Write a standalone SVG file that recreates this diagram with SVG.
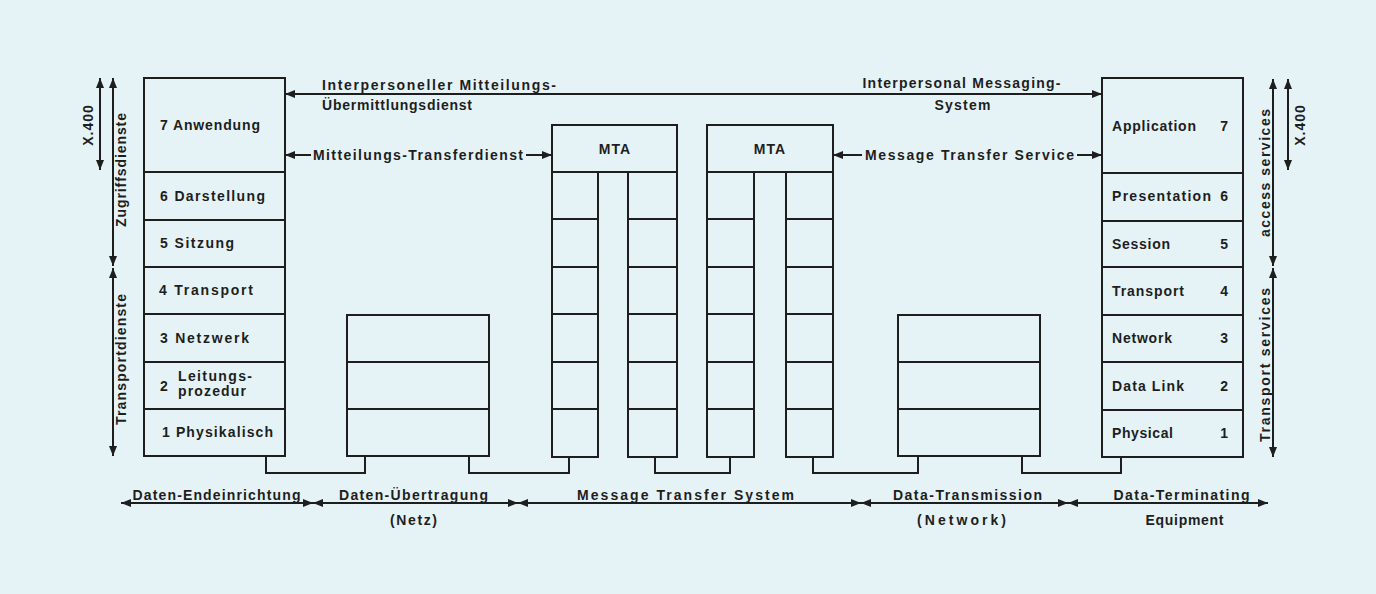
<svg xmlns="http://www.w3.org/2000/svg" width="1376" height="594" viewBox="0 0 1376 594">
<defs>
<style>
.bg{fill:#e5f3f6}
.box{fill:none;stroke:#1e1e1e;stroke-width:2}
.ln{fill:none;stroke:#1e1e1e;stroke-width:2}
.ar{fill:none;stroke:#1e1e1e;stroke-width:2;marker-start:url(#ah);marker-end:url(#ah)}
text{font-family:"Liberation Sans",Arial,sans-serif;font-weight:bold;font-size:14px;fill:#1e1e1e;letter-spacing:1px}
.m{text-anchor:middle}
.e{text-anchor:end}
</style>
<marker id="ah" viewBox="0 0 10 8" refX="10" refY="4" markerWidth="10" markerHeight="8" markerUnits="userSpaceOnUse" orient="auto-start-reverse">
<path d="M0,0 L10,4 L0,8 z" fill="#1e1e1e"/>
</marker>
</defs>
<rect class="bg" x="0" y="0" width="1376" height="594"/>

<g id="stack-left">
<rect class="box" x="144" y="78" width="141" height="378"/>
<path class="ln" d="M144,172 H285 M144,220 H285 M144,267 H285 M144,314 H285 M144,362 H285 M144,409 H285"/>
<text x="160" y="130" textLength="101">7 Anwendung</text>
<text x="160" y="201" textLength="106">6 Darstellung</text>
<text x="160" y="248" textLength="75">5 Sitzung</text>
<text x="159" y="295" textLength="95">4 Transport</text>
<text x="160" y="343" textLength="90">3 Netzwerk</text>
<text x="160" y="391">2</text>
<text x="178" y="381" textLength="75">Leitungs-</text>
<text x="178" y="396" textLength="69">prozedur</text>
<text x="162" y="437" textLength="112">1 Physikalisch</text>
</g>

<g id="stack-right">
<rect class="box" x="1102" y="78" width="141" height="379"/>
<path class="ln" d="M1102,173 H1243 M1102,221 H1243 M1102,267 H1243 M1102,315 H1243 M1102,362 H1243 M1102,410 H1243"/>
<text x="1112" y="131" textLength="85">Application</text><text class="e" x="1229" y="131">7</text>
<text x="1112" y="201" textLength="100">Presentation</text><text class="e" x="1229" y="201">6</text>
<text x="1112" y="249" textLength="59">Session</text><text class="e" x="1229" y="249">5</text>
<text x="1112" y="296" textLength="73">Transport</text><text class="e" x="1229" y="296">4</text>
<text x="1112" y="343" textLength="61">Network</text><text class="e" x="1229" y="343">3</text>
<text x="1112" y="391" textLength="73">Data Link</text><text class="e" x="1229" y="391">2</text>
<text x="1112" y="438" textLength="62">Physical</text><text class="e" x="1229" y="438">1</text>
</g>

<g id="net-left">
<rect class="box" x="347" y="315" width="142" height="141"/>
<path class="ln" d="M347,362 H489 M347,409 H489"/>
</g>

<g id="net-right">
<rect class="box" x="898" y="315" width="142" height="141"/>
<path class="ln" d="M898,362 H1040 M898,409 H1040"/>
</g>

<g id="mta-left">
<rect class="box" x="552" y="125" width="125" height="47"/>
<text class="m" x="615" y="154">MTA</text>
<rect class="box" x="552" y="172" width="46" height="285"/>
<rect class="box" x="628" y="172" width="49" height="285"/>
<path class="ln" d="M552,219 H598 M552,267 H598 M552,314 H598 M552,362 H598 M552,409 H598 M628,219 H677 M628,267 H677 M628,314 H677 M628,362 H677 M628,409 H677"/>
</g>

<g id="mta-right">
<rect class="box" x="707" y="125" width="126" height="47"/>
<text class="m" x="770" y="154">MTA</text>
<rect class="box" x="707" y="172" width="47" height="285"/>
<rect class="box" x="786" y="172" width="47" height="285"/>
<path class="ln" d="M707,219 H754 M707,267 H754 M707,314 H754 M707,362 H754 M707,409 H754 M786,219 H833 M786,267 H833 M786,314 H833 M786,362 H833 M786,409 H833"/>
</g>

<g id="connectors">
<path class="ln" d="M266,456 V473 H365 V456"/>
<path class="ln" d="M469,456 V473 H569 V457"/>
<path class="ln" d="M655,457 V473 H730 V457"/>
<path class="ln" d="M813,457 V473 H918 V456"/>
<path class="ln" d="M1022,456 V473 H1121 V457"/>

<path class="ar" d="M285,94 H1102"/>
<path class="ar" d="M285,155 H311 M526,155 H552"/>
<path class="ar" d="M833,155 H862 M1077,155 H1102"/>

<path class="ar" d="M100,78 V170"/>
<path class="ar" d="M113,78 V266"/>
<path class="ar" d="M113,268 V456"/>
<path class="ar" d="M1273,79 V266"/>
<path class="ar" d="M1273,268 V457"/>
<path class="ar" d="M1288,79 V170"/>

<path class="ar" d="M121,503 H313"/>
<path class="ar" d="M313,503 H518"/>
<path class="ar" d="M518,503 H861"/>
<path class="ar" d="M861,503 H1068"/>
<path class="ar" d="M1068,503 H1268"/>
</g>

<g id="labels">
<text x="322" y="90" textLength="235">Interpersoneller  Mitteilungs-</text>
<text x="322" y="110" textLength="151">Übermittlungsdienst</text>
<text class="m" x="962" y="88" textLength="199">Interpersonal Messaging-</text>
<text class="m" x="963" y="110" textLength="57">System</text>
<text x="313" y="160" textLength="211">Mitteilungs-Transferdienst</text>
<text x="865" y="160" textLength="210">Message Transfer Service</text>

<text class="m" transform="translate(93,125) rotate(-90)">X.400</text>
<text class="m" transform="translate(126,169.5) rotate(-90)" textLength="115">Zugriffsdienste</text>
<text class="m" transform="translate(126,359) rotate(-90)" textLength="132">Transportdienste</text>
<text class="m" transform="translate(1270,172.5) rotate(-90)" textLength="129">access services</text>
<text class="m" transform="translate(1270,364.5) rotate(-90)" textLength="155">Transport  services</text>
<text class="m" transform="translate(1305,125) rotate(-90)">X.400</text>

<text class="m" x="217" y="500" textLength="169">Daten-Endeinrichtung</text>
<text class="m" x="414" y="500" textLength="150">Daten-Übertragung</text>
<text class="m" x="414" y="525" textLength="48">(Netz)</text>
<text class="m" x="686" y="500" textLength="218">Message  Transfer  System</text>
<text class="m" x="968" y="500" textLength="150">Data-Transmission</text>
<text class="m" x="962" y="525" textLength="90">(Network)</text>
<text class="m" x="1182" y="500" textLength="137">Data-Terminating</text>
<text class="m" x="1185" y="525" textLength="79">Equipment</text>
</g>
</svg>
